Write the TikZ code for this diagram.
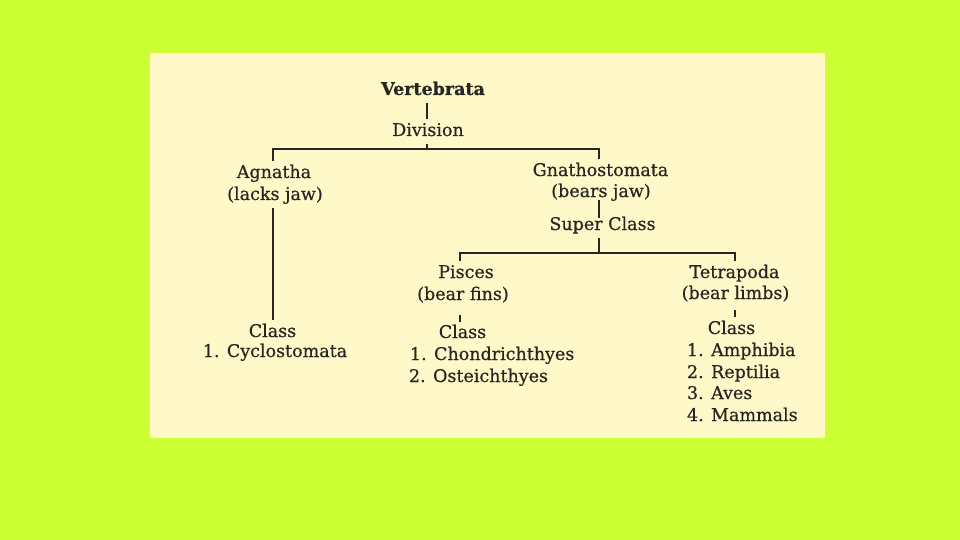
\documentclass[tikz,border=0pt]{standalone}
\usepackage{fontspec}
\setmainfont{DejaVu Serif}[FakeBold=0.6]
\definecolor{lime}{RGB}{204,255,51}
\definecolor{cream}{RGB}{255,248,200}
\definecolor{ink}{RGB}{40,38,34}
\begin{document}
\begin{tikzpicture}[x=1pt,y=-1pt,
  txt/.style={inner sep=0pt, outer xsep=0pt, outer ysep=4pt, text height=13pt, text depth=4pt,
    font=\fontsize{17.5}{21}\selectfont, text=ink, anchor=base},
  item/.style={txt, anchor=base west},
  conn/.style={draw=ink, line width=2.1pt}]
\useasboundingbox (0,0) rectangle (960,540);
\fill[lime] (0,0) rectangle (960,540);
\fill[cream] (150,53) rectangle (825,438);
% nodes
\node[txt, font=\bfseries\fontsize{17.5}{21}\selectfont] (vert) at (433,95) {Vertebrata};
\node[txt] (div) at (428,136) {Division};
\node[txt] (agn1) at (274,178) {Agnatha};
\node[txt] (agn2) at (275,200) {(lacks jaw)};
\node[txt] (cls1) at (272.5,337) {Class};
\node[txt] (cyc) at (275,357) {1. Cyclostomata};
\node[txt] (gna1) at (600.5,176) {Gnathostomata};
\node[txt] (gna2) at (601,197) {(bears jaw)};
\node[txt] (sup) at (602.5,230) {Super Class};
\node[txt] (pis1) at (466,278) {Pisces};
\node[txt] (pis2) at (463,300) {(bear fins)};
\node[txt] (cls2) at (462.5,338) {Class};
\node[item] (pl1) at (410,360) {1. Chondrichthyes};
\node[item] (pl2) at (409,382) {2. Osteichthyes};
\node[txt] (tet1) at (734.5,278) {Tetrapoda};
\node[txt] (tet2) at (735.5,299) {(bear limbs)};
\node[txt] (cls3) at (731.5,334) {Class};
\node[item] (tl1) at (687,356) {1. Amphibia};
\node[item] (tl2) at (687,378) {2. Reptilia};
\node[item] (tl3) at (687,399) {3. Aves};
\node[item] (tl4) at (687,421) {4. Mammals};
% junctions
\coordinate (j1) at (427,149);
\coordinate (jL) at (273,149);
\coordinate (jR) at (599,149);
\coordinate (j2) at (599,253);
\coordinate (jP) at (460,253);
\coordinate (jT) at (735,253);
% connectors
\draw[conn] (vert.south -| j1) -- (div.north -| j1);
\draw[conn] (div.south -| j1) -- (j1);
\draw[conn] (agn1.north -| jL) -- (jL) -- (jR) -- (gna1.north -| jR);
\draw[conn] (agn2.south -| jL) -- (cls1.north -| jL);
\draw[conn, shorten <=-5pt, shorten >=-5pt] (gna2.south -| jR) -- (sup.north -| jR);
\draw[conn] (sup.south -| j2) -- (j2);
\draw[conn] (pis1.north -| jP) -- (jP) -- (jT) -- (tet1.north -| jT);
\draw[conn, shorten <=7pt, shorten >=-1pt] (pis2.south -| jP) -- (cls2.north -| jP);
\draw[conn, shorten <=3pt] (tet2.south -| jT) -- (cls3.north -| jT);
\end{tikzpicture}
\end{document}
